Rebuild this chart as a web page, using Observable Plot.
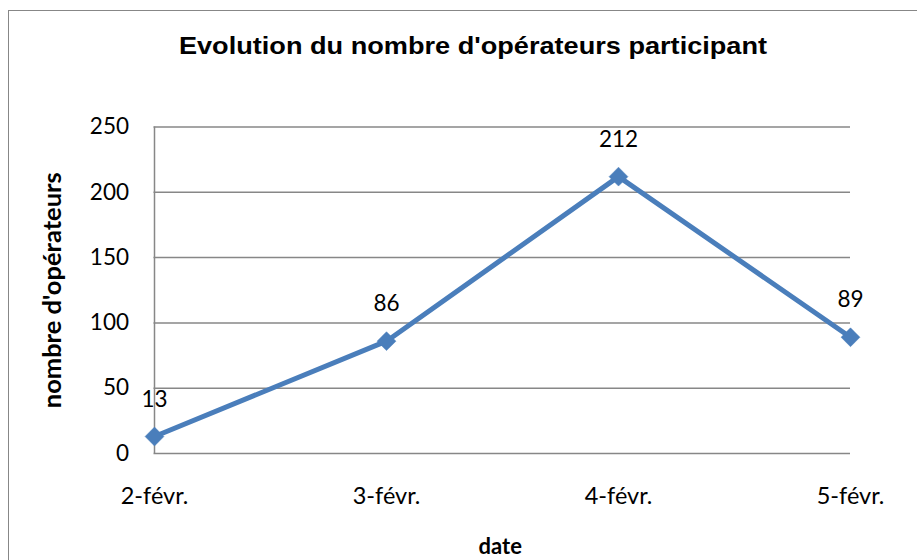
<!DOCTYPE html>
<html>
<head>
<meta charset="utf-8">
<script src="https://cdn.jsdelivr.net/npm/d3@7"></script>
<script src="https://cdn.jsdelivr.net/npm/@observablehq/plot@0.6"></script>
<style>
  html, body { margin: 0; padding: 0; background: #fff; }
  #wrap { position: relative; width: 917px; height: 560px; overflow: hidden; }
  #frame { position: absolute; left: 8px; top: 10px; width: 930px; height: 600px; border: 1.5px solid #878787; box-sizing: border-box; }
  #title { position: absolute; left: 6px; width: 934px; top: 32px; text-align: center; line-height: 28px;
           font-family: "Liberation Sans", Arial, sans-serif; font-weight: bold; font-size: 24px; color: #000;
           transform: scaleX(1.13); transform-origin: 467px 0; }
  #chart { position: absolute; left: 0; top: 0; }
</style>
</head>
<body>
<div id="wrap">
  <div id="frame"></div>
  <div id="title">Evolution du nombre d'opérateurs participant</div>
  <div id="chart"></div>
</div>
<script>
const dates = ["2-févr.", "3-févr.", "4-févr.", "5-févr."];
const operateurs = [13, 86, 212, 89];
const yTicks = [0, 50, 100, 150, 200, 250];

const data = dates.map((d, i) => ({date: d, n: operateurs[i]}));
const blue = "#4A7EBB";
const grid = "#878787";
const font = "Lato, 'Open Sans', sans-serif";

const plot = Plot.plot({
  width: 917,
  height: 560,
  marginLeft: 153.5,
  marginRight: 67,
  marginTop: 126.5,
  marginBottom: 107,
  style: {fontFamily: font, fontSize: "22px", color: "#000", background: "transparent", overflow: "visible"},
  x: {type: "point", domain: dates, padding: 0, label: null},
  y: {domain: [0, 250], label: null},
  marks: [
    Plot.ruleY(yTicks, {stroke: grid, strokeWidth: 1.5}),
    Plot.ruleX([dates[0]], {stroke: grid, strokeWidth: 1.5}),
    Plot.axisY({ticks: yTicks, tickSize: 0, tickPadding: 25, fontSize: 22.5, label: null}),
    Plot.axisX({tickSize: 0, tickPadding: 34, fontSize: 23.5, label: null}),
    Plot.line(data, {x: "date", y: "n", stroke: blue, strokeWidth: 5, strokeLinejoin: "round"}),
    Plot.dot(data, {x: "date", y: "n", symbol: "diamond2", r: 8.5, fill: blue, stroke: blue, strokeWidth: 0.5}),
    Plot.text(data, {x: "date", y: "n", text: d => String(d.n), dy: -37, fontSize: 22.5, fill: "#000"}),
    Plot.text(["nombre d'opérateurs"], {frameAnchor: "left", textAnchor: "middle", dx: -101, rotate: -90, fontSize: 25.5, fontWeight: "bold", fill: "#000"}),
    Plot.text(["date"], {frameAnchor: "bottom", dx: -2, dy: 100, fontSize: 22, fontWeight: "bold", fill: "#000"})
  ]
});
document.getElementById("chart").appendChild(plot);
</script>
</body>
</html>
